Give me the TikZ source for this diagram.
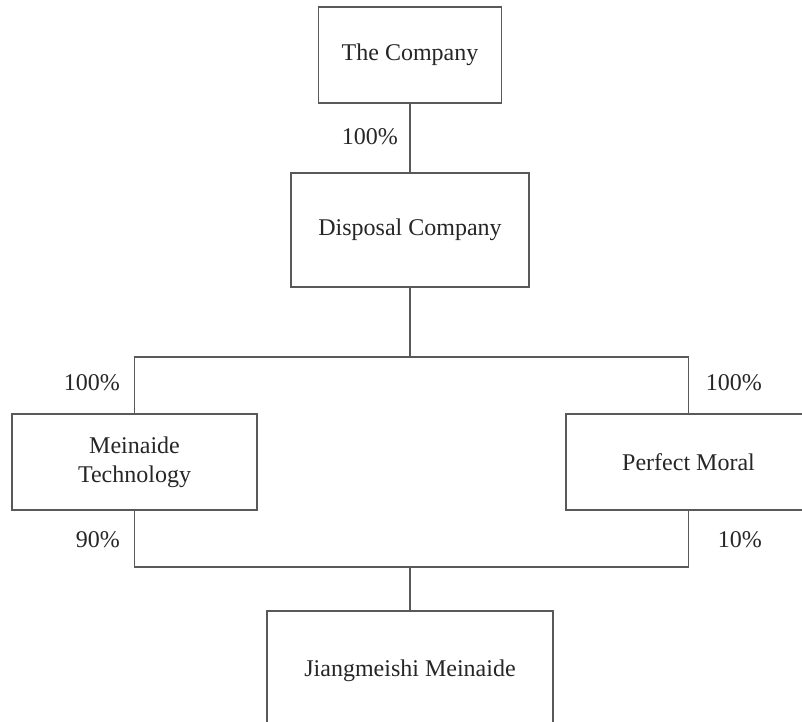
\documentclass[tikz,border=0pt]{standalone}
\usepackage{fontspec}
\setmainfont{Liberation Serif}
\usetikzlibrary{positioning}

\begin{document}
\begin{tikzpicture}[x=1pt,y=-1pt,
  entity/.style={draw=black!65, line width=1.2pt, fill=white, inner sep=0pt, align=center, text=black!85},
  share/.style={anchor=east, inner sep=0pt, text=black!85},
  link/.style={draw=black!65, line width=1.2pt}]
\useasboundingbox (0,0) rectangle (802,721);
\fontsize{24}{29}\selectfont
\node[entity, minimum width=183, minimum height=96] (company) at (410,55) {The Company};
\node[entity, minimum width=238, minimum height=114] (disposal) at (410,230) {Disposal Company};
\node[entity, minimum width=245, minimum height=96] (meinaide) at (134.5,462) {Meinaide\\Technology};
\node[entity, minimum width=245, minimum height=96] (perfect) at (688.5,462) {Perfect Moral};
\node[entity, minimum width=286, minimum height=120] (jiangmeishi) at (410,671) {Jiangmeishi Meinaide};
\coordinate (upper) at (410,357);
\coordinate (lower) at (410,567);
\draw[link] (company) -- (disposal);
\draw[link] (disposal) -- (upper);
\draw[link] (meinaide.north) -- (meinaide.north |- upper) -- (perfect.north |- upper) -- (perfect.north);
\draw[link] (meinaide.south) -- (meinaide.south |- lower) -- (perfect.south |- lower) -- (perfect.south);
\draw[link] (lower) -- (jiangmeishi);
\node[share] (s1) at (398,137) {100\%};
\node[share] (s2) at (120,383) {100\%};
\node[share] (s3) at (762,383) {100\%};
\node[share] (s4) at (120,540) {90\%};
\node[share] (s5) at (762,540) {10\%};
\end{tikzpicture}
\end{document}
